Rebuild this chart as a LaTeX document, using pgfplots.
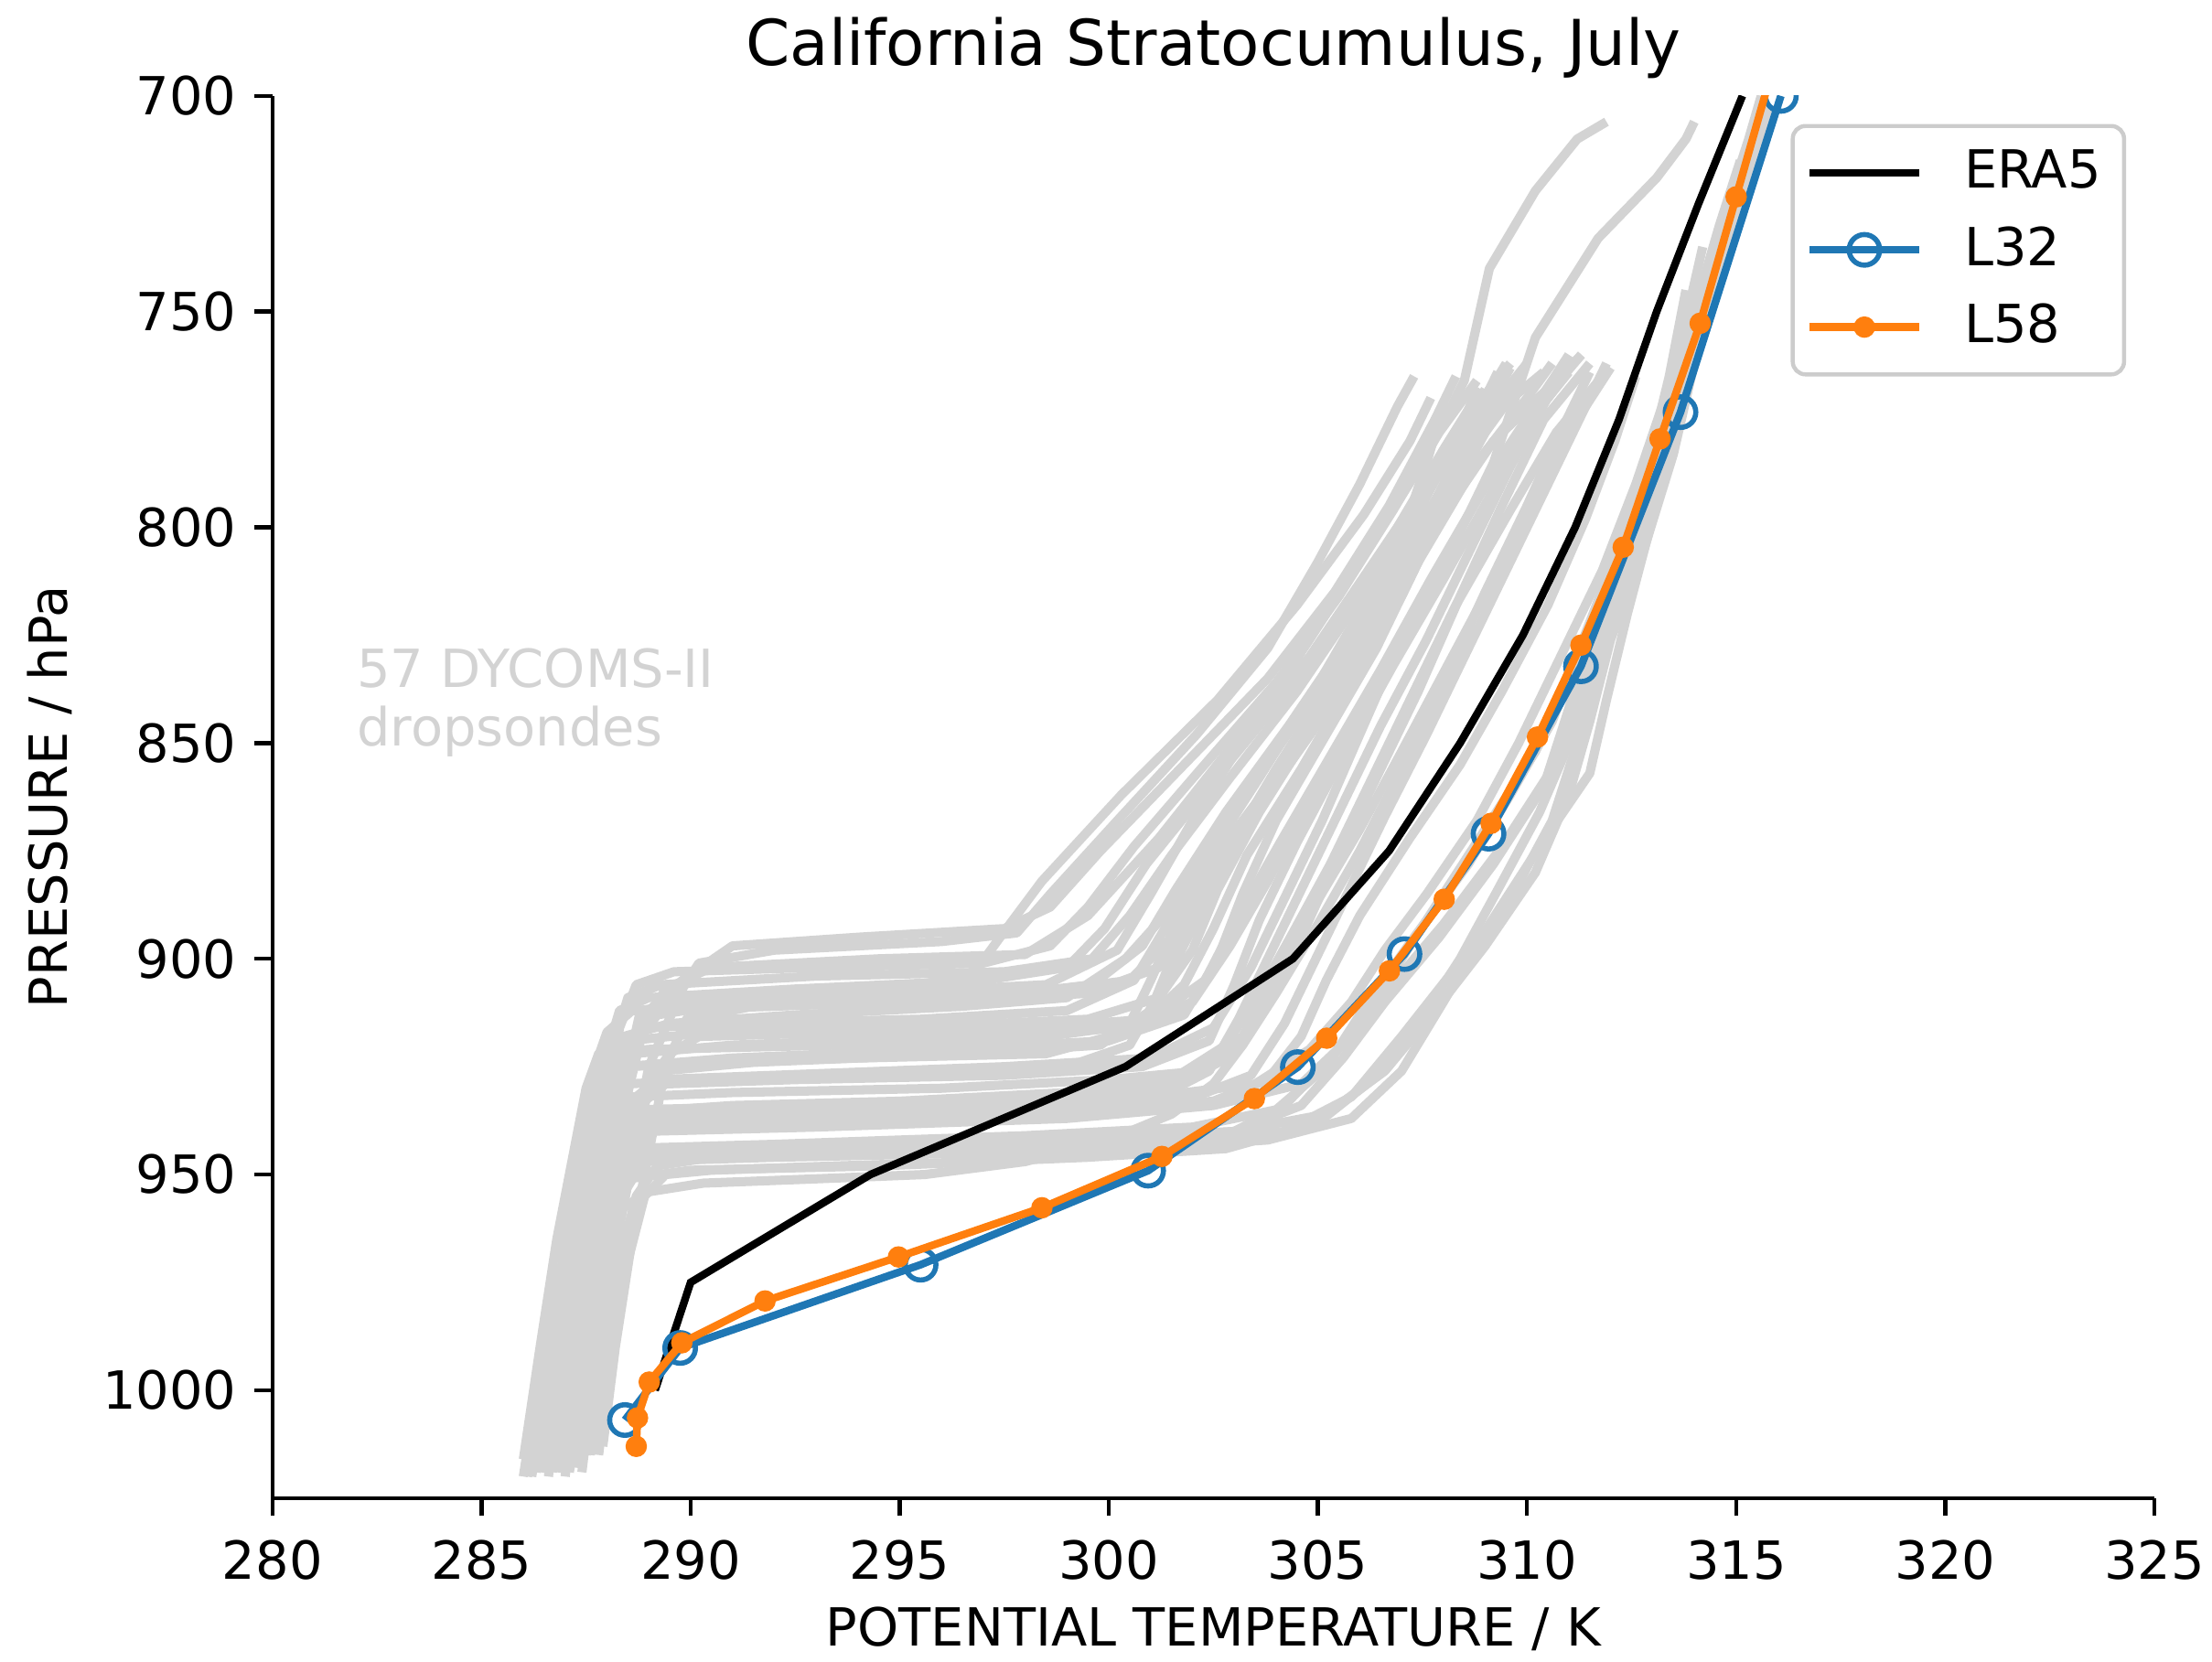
\documentclass[border=0pt]{standalone}
\usepackage{fontspec}
\setmainfont{DejaVu Sans}
\usepackage{pgfplots}
\pgfplotsset{compat=1.18}
\definecolor{mplblue}{HTML}{1F77B4}
\definecolor{mplorange}{HTML}{FF7F0E}
\definecolor{lgray}{HTML}{D3D3D3}
\definecolor{legedge}{HTML}{CCCCCC}
\pgfplotsset{sonde/.style={lgray, line width=1.8pt, no marks, forget plot, line join=round}}

\begin{document}
\begin{tikzpicture}
\useasboundingbox (-53.4pt,-32.1pt) rectangle (380.2pt,293.7pt);
\begin{axis}[
  scale only axis, width=368.9pt, height=274.9pt,
  xmin=280, xmax=325, ymin=700, ymax=1025,
  y dir=reverse,
  xtick={280,285,...,325}, ytick={700,750,...,1000},
  axis x line*=bottom, axis y line*=left,
  axis line style={-, line width=0.8pt},
  tick align=outside, major tick length=3.5pt,
  every tick/.style={black, line width=0.8pt},
  clip mode=individual,
  clip marker paths=true,
  /pgf/number format/1000 sep={},
  /pgf/number format/assume math mode=true,
  tick label style={font=\fontsize{10.3}{12}\selectfont},
  xticklabel style={yshift=-1.3pt},
  xlabel={POTENTIAL TEMPERATURE / K},
  ylabel={PRESSURE / hPa},
  xlabel style={font=\fontsize{10.3}{12}\selectfont, at={(axis description cs:0.5,-0.0935)}, anchor=center, inner sep=0pt},
  ylabel style={font=\fontsize{10.3}{12}\selectfont, at={(axis description cs:-0.1185,0.5)}, anchor=center, inner sep=0pt},
  legend style={at={(rel axis cs:0.985,0.98)}, anchor=north east, draw=legedge, line width=0.8pt,
    rounded corners=2.5pt, fill=white, font=\fontsize{10.3}{12}\selectfont,
    inner xsep=2.5pt, inner ysep=2.7pt, row sep=2pt},
  legend cell align=left,
  legend image code/.code={\draw[mark repeat=2,mark phase=2,#1] plot coordinates {(0pt,0pt) (10.8pt,0pt) (21.6pt,0pt)}; \path (27.6pt,0pt);},
]
% dropsondes
\addplot[sonde] coordinates {(286.4,1018) (286.9,990) (287.3,960) (288.0,930) (289.0,912) (289.8,905) (291.0,897) (294.0,895) (297.5,893) (298.6,888) (299.8,875) (301.8,855) (303.8,835) (305.4,815) (306.7,795) (307.8,775) (308.3,765)};
\addplot[sonde] coordinates {(286.8,1016) (287.2,985) (287.8,950) (288.6,920) (289.4,907) (290.5,902) (294.5,900) (298.0,899) (299.5,890) (301.2,872) (303.0,850) (304.8,830) (306.2,810) (307.6,790) (309.0,770) (309.5,762)};
\addplot[sonde] coordinates {(287.0,1019) (287.4,990) (287.9,960) (288.4,935) (288.9,915) (289.3,910) (291.0,908) (295.5,906) (296.8,903) (297.4,895) (298.4,882) (300.3,862) (302.6,840) (304.5,818) (306.1,797) (307.2,780) (307.7,770)};
\addplot[sonde] coordinates {(286.2,1020) (286.6,995) (287.0,965) (287.4,940) (287.9,925) (288.4,918) (289.5,915) (292.5,913) (296.5,911) (299.0,909) (300.4,900) (301.8,885) (303.2,868) (304.6,850) (306.0,830) (307.4,808) (308.8,785) (310.0,770) (310.6,762)};
\addplot[sonde] coordinates {(287.5,1015) (287.9,985) (288.4,955) (289.0,925) (289.8,907) (290.2,901) (292.0,898) (296.0,896) (297.8,894) (298.6,885) (300.2,868) (302.1,848) (303.8,828) (305.0,808) (306.0,790) (306.9,772) (307.3,765)};
\addplot[sonde] coordinates {(286.5,1017) (286.9,990) (287.4,962) (287.9,938) (288.6,921) (289.2,913) (290.5,911) (294.0,910) (298.0,908) (300.5,905) (301.5,895) (302.4,880) (303.8,862) (305.4,840) (306.6,820) (307.8,800) (309.2,780) (310.8,765) (311.3,760)};
\addplot[sonde] coordinates {(286.3,1018) (286.7,995) (287.2,970) (287.6,945) (288.0,930) (288.4,925) (291.0,923) (296.0,921) (300.0,919) (301.8,913) (302.6,900) (303.2,885) (304.0,868) (305.2,848) (306.4,828) (307.4,808) (308.3,788) (309.2,770) (309.6,763)};
\addplot[sonde] coordinates {(287.1,1016) (287.5,990) (287.9,965) (288.3,945) (288.7,932) (289.2,928) (292.0,927) (297.5,925) (301.0,923) (302.5,916) (303.4,902) (304.2,886) (305.1,868) (306.0,848) (307.0,826) (308.2,804) (309.5,782) (310.6,766) (311.0,760)};
\addplot[sonde] coordinates {(286.0,1020) (286.4,995) (286.9,972) (287.4,950) (287.8,938) (288.6,935) (293.0,934) (298.0,933) (301.5,930) (303.0,922) (303.8,910) (304.6,895) (305.4,878) (306.4,858) (307.4,838) (308.4,816) (309.4,795) (310.4,775) (311.5,762)};
\addplot[sonde] coordinates {(286.7,1019) (287.1,992) (287.5,968) (287.9,948) (288.2,935) (288.5,929) (290.5,928) (295.0,926) (299.0,925) (300.5,920) (301.2,908) (302.0,893) (302.8,878) (303.8,860) (305.0,840) (306.2,820) (307.2,800) (308.2,782) (308.8,768)};
\addplot[sonde] coordinates {(287.6,1014) (287.9,988) (288.3,962) (288.7,942) (289.0,930) (289.3,926) (291.5,924) (296.5,922) (299.8,920) (301.0,912) (301.5,900) (302.3,884) (303.5,865) (304.8,845) (306.0,825) (306.9,805) (307.6,785) (308.0,772)};
\addplot[sonde] coordinates {(286.4,1017) (286.8,993) (287.3,970) (287.8,950) (288.2,938) (288.6,932) (291.0,931) (296.0,930) (300.0,928) (302.2,926) (303.2,918) (304.0,904) (304.9,888) (306.0,870) (307.0,852) (308.1,832) (309.2,812) (310.2,792) (311.2,775) (312.0,763)};
\addplot[sonde] coordinates {(286.9,1018) (287.3,990) (287.7,962) (288.1,940) (288.5,920) (288.9,916) (291.0,915) (295.5,914) (299.0,912) (300.6,905) (301.4,892) (302.2,877) (303.4,860) (304.7,842) (306.0,822) (307.3,802) (308.5,783) (309.5,768) (310.0,762)};
\addplot[sonde] coordinates {(286.3,1019) (286.7,995) (287.1,975) (287.5,958) (287.9,948) (288.3,944) (292.0,943) (298.0,941) (302.0,939) (304.0,935) (305.2,925) (306.2,910) (307.3,895) (308.6,878) (309.6,862) (310.6,845) (311.4,825) (312.2,805) (312.9,785) (313.4,765) (313.8,745)};
\addplot[sonde] coordinates {(287.0,1017) (287.4,993) (287.8,972) (288.1,955) (288.5,945) (288.9,940) (293.0,939) (299.0,937) (302.5,934) (304.6,929) (305.8,918) (306.8,903) (307.8,888) (309.0,870) (310.2,852) (311.1,832) (311.9,812) (312.7,792) (313.3,772) (313.8,752) (314.2,735)};
\addplot[sonde] coordinates {(286.6,1016) (287.0,990) (287.4,970) (287.8,955) (288.2,948) (288.6,946) (291.5,945) (296.0,944) (300.5,942) (303.0,940) (304.6,934) (305.6,923) (306.6,910) (307.9,895) (309.2,878) (310.4,860) (311.0,842) (311.5,825) (312.3,805) (313.0,785) (313.5,765) (314.2,745) (314.8,725) (315.3,710) (315.6,700)};
\addplot[sonde] coordinates {(287.8,1015) (288.1,990) (288.5,970) (288.9,955) (289.4,950) (290.5,949) (293.5,948) (297.0,947) (300.5,944) (302.8,941) (304.2,934) (305.4,922) (306.6,908) (308.0,892) (309.4,874) (310.6,856) (311.3,838) (311.9,818) (312.6,798) (313.2,778) (313.6,758)};
\addplot[sonde] coordinates {(286.1,1020) (286.5,998) (286.9,975) (287.3,955) (287.7,942) (288.1,936) (292.0,935) (297.0,934) (301.0,932) (303.5,929) (304.8,921) (305.8,910) (306.6,898) (307.6,885) (308.8,868) (309.8,850) (310.8,830) (311.8,810) (312.6,790) (313.3,770) (314.0,750) (314.6,730) (315.1,715)};
\addplot[sonde] coordinates {(287.3,1018) (287.6,994) (288.0,970) (288.3,952) (288.7,942) (289.1,938) (293.0,937) (298.5,936) (302.5,933) (303.8,928) (304.6,918) (305.2,905) (306.0,890) (307.2,872) (308.4,855) (309.4,838) (310.5,818) (311.4,798) (312.1,780) (312.6,765)};
\addplot[sonde] coordinates {(286.8,1019) (287.2,995) (287.6,975) (288.0,960) (289.0,954) (290.3,952) (293.0,951) (295.6,950) (298.0,947) (300.0,942) (301.5,936) (302.5,929) (303.2,920) (304.0,908) (305.0,892) (306.0,875) (307.0,856) (308.0,836) (309.0,815) (310.0,795) (310.8,778) (311.5,764)};
\addplot[sonde] coordinates {(286.9,1017) (287.3,990) (287.7,965) (288.1,945) (288.5,925) (288.8,912) (290.0,910) (294.5,908) (298.5,906) (300.2,898) (301.0,885) (302.0,868) (303.3,848) (304.8,826) (306.2,805) (307.5,785) (308.5,766) (309.1,740) (310.2,722) (311.2,710) (311.9,706)};
\addplot[sonde] coordinates {(286.5,1018) (286.9,993) (287.4,968) (287.8,948) (288.2,930) (288.6,922) (291.0,920) (296.5,918) (300.5,916) (302.0,910) (302.9,897) (303.8,882) (304.8,864) (305.9,845) (307.0,825) (308.2,805) (309.2,785) (310.2,756) (311.7,733) (313.1,719) (313.8,710) (314.0,706)};
\addplot[sonde] coordinates {(286.2,1019) (286.6,992) (287.0,966) (287.3,945) (287.6,928) (288.0,917) (288.6,912) (292.0,911) (297.0,909) (299.6,906) (300.8,897) (301.6,884) (302.8,866) (304.3,846) (305.7,826) (307.0,806) (308.3,786) (309.4,772) (310.4,764)};
\addplot[sonde] coordinates {(287.2,1017) (287.6,992) (288.0,968) (288.4,948) (288.9,930) (289.5,922) (290.2,918) (294.0,917) (298.0,916) (301.0,914) (302.3,905) (303.1,890) (304.1,873) (305.3,853) (306.5,833) (307.7,812) (308.9,792) (310.0,776) (311.0,764)};
\addplot[sonde] coordinates {(286.0,1016) (286.4,990) (286.8,965) (287.2,945) (287.5,930) (287.8,922) (289.0,921) (293.5,920) (298.5,918) (300.8,915) (301.8,906) (302.5,893) (303.3,876) (304.6,856) (305.8,836) (307.0,816) (308.0,796) (309.0,778) (309.8,766)};
\addplot[sonde] coordinates {(287.4,1019) (287.7,995) (288.1,972) (288.5,952) (289.0,940) (289.5,935) (291.0,934) (295.0,933) (299.0,931) (301.5,928) (302.8,920) (303.6,908) (304.4,894) (305.3,878) (306.2,860) (307.2,840) (308.3,818) (309.6,796) (310.7,778) (311.8,765)};
\addplot[sonde] coordinates {(286.6,1020) (286.9,996) (287.3,975) (287.7,955) (288.0,944) (288.4,940) (290.5,939) (294.5,938) (298.5,936) (301.0,933) (302.4,926) (303.1,914) (303.8,900) (304.6,884) (305.5,866) (306.5,846) (307.6,826) (308.6,806) (309.6,786) (310.6,768) (311.3,760)};
\addplot[sonde] coordinates {(286.8,1016) (287.1,990) (287.5,964) (287.9,940) (288.3,916) (288.7,906) (289.6,903) (293.0,902) (297.0,901) (298.6,897) (299.5,888) (300.6,874) (302.2,856) (304.0,836) (305.5,816) (306.8,796) (307.9,778) (308.8,766)};
\addplot[sonde] coordinates {(287.9,1013) (288.2,990) (288.6,965) (289.0,945) (289.4,925) (289.9,914) (291.5,911) (296.0,910) (299.5,908) (301.2,902) (302.0,890) (302.9,874) (304.0,856) (305.3,836) (306.6,816) (307.9,795) (309.0,778) (309.9,766)};
\addplot[sonde] coordinates {(286.5,1018) (286.9,995) (287.3,975) (287.7,960) (288.1,950) (288.6,947) (292.0,946) (297.0,945) (301.5,943) (304.2,940) (305.8,932) (307.0,918) (308.3,902) (309.6,886) (310.6,868) (311.2,850) (311.7,830) (312.4,808) (313.2,785) (313.9,762) (314.6,740) (315.3,720) (315.8,702)};
\addplot[sonde] coordinates {(287.1,1019) (287.5,994) (287.9,972) (288.3,956) (288.8,948) (289.3,944) (293.5,943) (299.0,942) (303.0,940) (305.2,936) (306.6,926) (307.8,912) (309.0,897) (310.2,880) (311.0,862) (311.5,845) (312.0,826) (312.8,805) (313.5,783) (314.0,762) (314.3,748)};
\addplot[sonde] coordinates {(286.9,1017) (287.2,993) (287.6,973) (288.0,958) (288.5,951) (290.0,949) (294.5,948) (299.5,946) (302.8,944) (305.0,938) (306.3,928) (307.4,915) (308.4,900) (309.3,884) (310.3,866) (311.1,848) (311.8,828) (312.5,808) (313.2,788) (313.8,768) (314.4,748) (314.9,728) (315.4,712)};
\addplot[sonde] coordinates {(287.6,1015) (287.9,991) (288.3,970) (288.7,955) (289.2,948) (290.5,946) (295.5,945) (300.5,944) (303.8,942) (305.8,937) (307.0,926) (308.0,910) (309.1,892) (310.3,874) (311.5,857) (311.9,840) (312.4,820) (313.0,798) (313.6,776) (314.2,755)};
\addplot[sonde] coordinates {(286.4,1019) (286.8,994) (287.2,968) (287.6,946) (288.0,927) (288.5,919) (290.5,917) (295.0,916) (299.5,914) (301.2,909) (302.0,898) (302.6,884) (303.6,866) (304.9,846) (306.1,826) (307.2,806) (308.1,788) (308.9,772) (309.3,764)};
\addplot[sonde] coordinates {(287.3,1016) (287.7,990) (288.1,965) (288.5,945) (288.9,933) (289.4,929) (292.5,928) (297.5,927) (300.8,925) (302.4,919) (303.0,906) (303.6,891) (304.5,873) (305.6,853) (306.8,832) (308.0,812) (309.1,793) (310.1,775) (310.9,765)};
\addplot[sonde] coordinates {(286.7,1018) (287.0,993) (287.4,970) (287.8,950) (288.2,932) (288.6,925) (290.0,924) (294.0,923) (298.5,922) (300.4,917) (301.0,905) (301.6,892) (302.4,876) (303.6,858) (304.9,838) (306.1,818) (307.3,798) (308.3,780) (309.0,768)};
\addplot[sonde] coordinates {(286.3,1017) (286.7,992) (287.1,967) (287.5,945) (287.9,925) (288.3,912) (289.0,909) (292.5,907) (297.0,905) (299.0,902) (299.9,893) (300.9,878) (302.4,860) (304.1,840) (305.6,820) (306.9,800) (308.0,782) (308.9,768)};
\addplot[sonde] coordinates {(287.0,1020) (287.3,995) (287.7,972) (288.1,953) (288.5,941) (289.0,937) (292.0,936) (297.5,935) (301.8,933) (303.4,927) (304.2,915) (304.9,901) (305.7,885) (306.6,867) (307.6,848) (308.6,828) (309.6,808) (310.6,788) (311.4,772) (311.9,762)};
\addplot[sonde] coordinates {(286.5,1015) (286.9,990) (287.3,964) (287.7,942) (288.1,922) (288.5,909) (289.3,906) (293.0,904) (297.5,903) (299.6,900) (300.5,890) (301.5,876) (302.9,858) (304.5,838) (305.9,818) (307.1,798) (308.2,780) (309.1,768) (309.6,762)};
% model and reanalysis profiles
\addplot[black, line width=1.5pt, no marks] coordinates {
  (289.15,1000) (290.0,975) (294.3,950) (300.4,925) (304.4,900) (306.7,875) (308.4,850)
  (309.9,825) (311.15,800) (312.2,775) (313.1,750) (314.1,725) (315.15,700)};
\addlegendentry{ERA5}
\addplot[mplblue, line width=1.5pt, mark=o, mark size=3pt, mark options={line width=1pt, fill=none}] coordinates {
  (288.43,1006.9) (289.75,990.2) (295.5,970.9) (300.94,949.1) (304.52,925.1) (307.07,898.9)
  (309.08,871.0) (311.29,832.2) (313.67,773.3) (316.07,700)};
\addlegendentry{L32}
\addplot[mplorange, line width=1.5pt, mark=*, mark size=1.9pt, mark options={line width=0.4pt, fill=mplorange}] coordinates {
  (288.70,1013) (288.73,1006.4) (289.01,998.1) (289.79,989) (291.78,979.3) (294.97,969.1)
  (298.4,957.7) (301.27,945.8) (303.48,932.4) (305.21,918.4) (306.71,902.8) (308.02,886.2)
  (309.14,868.6) (310.25,848.6) (311.29,827.3) (312.3,804.6) (313.18,779.5) (314.14,752.7)
  (315.0,723.4) (315.95,691)};
\addlegendentry{L58}
\node[lgray, anchor=north west, inner sep=0pt, align=left, font=\fontsize{10.3}{11.5}\selectfont]
  at (axis cs:282.0,827.8) {57 DYCOMS-II\\dropsondes};
\node[anchor=base, inner sep=0pt, font=\fontsize{12.4}{14}\selectfont]
  at (rel axis cs:0.5,1) [yshift=5.9pt] {California Stratocumulus, July};
\end{axis}
\end{tikzpicture}
\end{document}
